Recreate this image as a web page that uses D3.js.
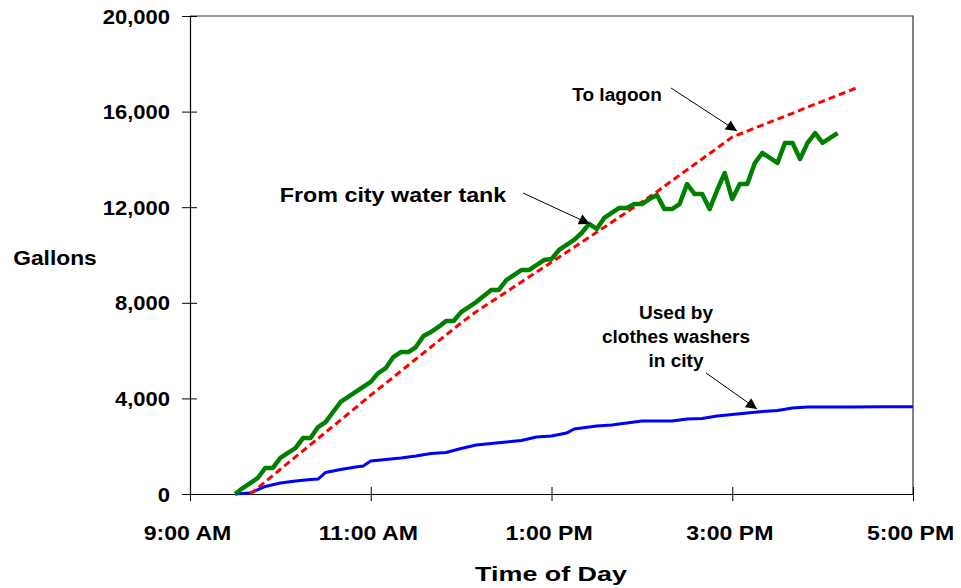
<!DOCTYPE html>
<html>
<head>
<meta charset="utf-8">
<script src="https://cdn.jsdelivr.net/npm/d3@7"></script>
<style>
  html, body { margin: 0; padding: 0; background: #fff; }
  svg { display: block; font-family: "Liberation Sans", Arial, sans-serif; font-weight: bold; }
</style>
</head>
<body>
<svg id="chart" width="961" height="588"></svg>
<script>
// ---- Data (minutes after 9:00 AM, gallons) ----
const xTickMinutes = [0, 120, 240, 360, 480];
const xTickLabels = ["9:00 AM", "11:00 AM", "1:00 PM", "3:00 PM", "5:00 PM"];
const yTickValues = [0, 4000, 8000, 12000, 16000, 20000];

const cityTank = [
  [30,0],[35,250],[40,460],[45,670],[50,1090],[55,1090],[60,1510],[65,1720],[70,1920],[75,2340],
  [80,2340],[85,2800],[90,3010],[95,3430],[100,3850],[105,4060],[110,4270],[115,4480],[120,4690],
  [125,5060],[130,5270],[135,5730],[140,5940],[145,5940],[150,6150],[155,6610],[160,6780],[165,6990],
  [170,7240],[175,7240],[180,7610],[185,7820],[190,8030],[195,8280],[200,8540],[205,8540],[210,8950],
  [215,9160],[220,9370],[225,9370],[230,9580],[235,9790],[240,9830],[245,10210],[250,10420],[255,10630],
  [260,10920],[265,11300],[270,11090],[275,11550],[280,11760],[285,11970],[290,11970],[295,12130],
  [300,12130],[305,12340],[310,12510],[315,11920],[320,11920],[325,12130],[330,12970],[335,12550],
  [340,12550],[345,11920],[350,12720],[355,13430],[360,12340],[365,12970],[370,12970],[375,13850],
  [380,14270],[385,14060],[390,13850],[395,14690],[400,14690],[405,14020],[410,14690],[415,15100],
  [420,14690],[425,14900],[430,15100]
];

const toLagoon = [
  [40,0],[50,515],[60,1035],[70,1550],[80,2065],[90,2580],[100,3095],[110,3615],[120,4135],[130,4635],
  [140,5140],[150,5650],[160,6150],[170,6655],[180,7160],[190,7630],[200,8040],[210,8455],[220,8870],
  [230,9285],[240,9700],[250,10115],[260,10530],[270,10955],[280,11370],[290,11795],[300,12215],
  [310,12650],[320,13110],[330,13565],[340,14020],[350,14475],[360,14935],[370,15185],[380,15435],
  [390,15680],[400,15930],[410,16185],[420,16430],[430,16680],[440,16930],[442,16980]
];

const washers = [
  [30,0],[40,40],[50,315],[60,460],[70,545],[80,605],[85,625],[90,900],[100,1025],[110,1130],[115,1170],
  [120,1380],[130,1445],[140,1505],[150,1590],[160,1695],[170,1735],[180,1905],[190,2050],[200,2115],
  [210,2175],[220,2240],[230,2385],[240,2425],[250,2550],[255,2720],[270,2845],[280,2885],[290,2970],
  [300,3055],[310,3055],[320,3055],[330,3140],[340,3160],[350,3265],[360,3325],[370,3390],[380,3450],
  [390,3495],[400,3600],[410,3640],[420,3640],[440,3645],[460,3650],[480,3655]
];

// ---- Layout ----
const svg = d3.select("#chart");
const L = 190, R = 913, T = 16, B = 494;
const x = d3.scaleLinear().domain([0, 480]).range([L, R]);
const y = d3.scaleLinear().domain([0, 20000]).range([B, T]);

function stretchText(g, px, py, str, size, sx, anchor) {
  return g.append("text")
    .attr("transform", `translate(${px},${py}) scale(${sx},1)`)
    .attr("text-anchor", anchor || "middle")
    .attr("font-size", size)
    .attr("fill", "#000")
    .text(str);
}

// frame (top/right)
svg.append("path")
  .attr("d", `M${L},${T}H${R}V${B}`)
  .attr("fill", "none").attr("stroke", "#333").attr("stroke-width", 1.2);

// Y axis
const yAxis = svg.append("g").attr("transform", `translate(${L},0)`)
  .call(d3.axisLeft(y).tickValues(yTickValues).tickSize(8).tickSizeOuter(0).tickFormat(d3.format(",")));
yAxis.select(".domain").attr("stroke", "#000").attr("stroke-width", 1.2);
yAxis.selectAll(".tick line").attr("x1", 7).attr("stroke", "#000");
yAxis.selectAll(".tick text")
  .attr("x", null).attr("dy", null)
  .attr("transform", "translate(-20,7) scale(1.1,1)")
  .attr("font-size", 20).attr("font-family", "Liberation Sans, Arial, sans-serif")
  .attr("font-weight", "bold").attr("fill", "#000");

// X axis
const xAxis = svg.append("g").attr("transform", `translate(0,${B})`)
  .call(d3.axisBottom(x).tickValues(xTickMinutes).tickSize(7).tickSizeOuter(0)
    .tickFormat((d, i) => xTickLabels[i]));
xAxis.select(".domain").attr("stroke", "#000").attr("stroke-width", 1.2);
xAxis.selectAll(".tick line").attr("y1", -7).attr("stroke", "#000");
xAxis.selectAll(".tick text")
  .attr("y", null).attr("dy", null)
  .attr("transform", "translate(-3,46) scale(1.1,1)")
  .attr("font-size", 21).attr("font-family", "Liberation Sans, Arial, sans-serif")
  .attr("font-weight", "bold").attr("fill", "#000");

// Axis titles
stretchText(svg, 55, 265, "Gallons", 20, 1.14, "middle");
stretchText(svg, 551, 581, "Time of Day", 21, 1.28, "middle");

// Lines
const line = d3.line().x(d => x(d[0])).y(d => y(d[1]));
svg.append("path").datum(washers).attr("d", line)
  .attr("fill", "none").attr("stroke", "#0000ff").attr("stroke-width", 3).attr("stroke-linejoin", "round");
svg.append("path").datum(toLagoon).attr("d", line)
  .attr("fill", "none").attr("stroke", "#ff0000").attr("stroke-width", 3).attr("stroke-dasharray", "7,4");
svg.append("path").datum(cityTank).attr("d", line)
  .attr("fill", "none").attr("stroke", "#008000").attr("stroke-width", 4.5).attr("stroke-linejoin", "round");

// Arrow marker
svg.append("defs").append("marker")
  .attr("id", "arrow").attr("viewBox", "0 0 10 10")
  .attr("refX", 10).attr("refY", 5)
  .attr("markerWidth", 13).attr("markerHeight", 11)
  .attr("markerUnits", "userSpaceOnUse")
  .attr("orient", "auto")
  .append("path").attr("d", "M0,0L10,5L0,10Z").attr("fill", "#000");

function arrow(x1, y1, x2, y2) {
  svg.append("line").attr("x1", x1).attr("y1", y1).attr("x2", x2).attr("y2", y2)
    .attr("stroke", "#000").attr("stroke-width", 1).attr("marker-end", "url(#arrow)");
}

// Annotations
stretchText(svg, 617, 101, "To lagoon", 18.5, 1.03, "middle");
arrow(671, 88, 737, 131);

stretchText(svg, 393, 202, "From city water tank", 21, 1.11, "middle");
arrow(523, 193, 590, 224);

stretchText(svg, 676, 319, "Used by", 18.5, 1.03, "middle");
stretchText(svg, 676, 343, "clothes washers", 18.5, 1.03, "middle");
stretchText(svg, 676, 367, "in city", 18.5, 1.03, "middle");
arrow(706, 373, 757, 409);
</script>
</body>
</html>
